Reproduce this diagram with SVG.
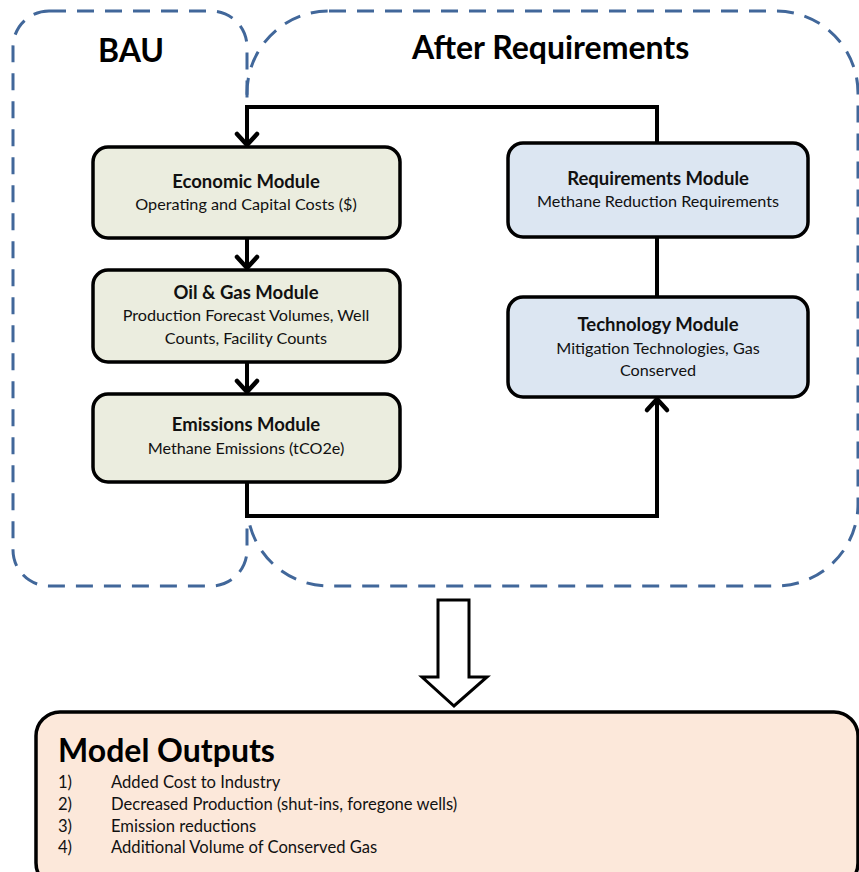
<svg xmlns="http://www.w3.org/2000/svg" width="859" height="872" viewBox="0 0 859 872">
<style>
.zone{fill:none;stroke:#41679a;stroke-width:3;stroke-dasharray:17 11}
.g{fill:#ebeddf;stroke:#000;stroke-width:3.5}
.b{fill:#dce6f2;stroke:#000;stroke-width:3.5}
.t{font-family:Lato,"Open Sans","Liberation Sans",sans-serif;fill:#111;text-anchor:middle}
.h{font-size:18.5px;font-weight:bold}
.s{font-size:16.2px}
.title{font-family:Lato,"Open Sans","Liberation Sans",sans-serif;font-weight:bold;font-size:32px;fill:#000}
.c{fill:none;stroke:#000;stroke-width:4}
.ca{fill:none;stroke:#000;stroke-width:4;marker-end:url(#chev)}
.li{font-family:Lato,"Open Sans","Liberation Sans",sans-serif;font-size:16.6px;fill:#111}
</style>
<defs>
<marker id="chev" markerUnits="userSpaceOnUse" markerWidth="30" markerHeight="30" viewBox="-15 -15 30 30" refX="0" refY="0" orient="auto">
<path d="M-11,-10 L0,0 L-11,10" fill="none" stroke="#000" stroke-width="4.5" stroke-linecap="round" stroke-linejoin="miter"/>
</marker>
</defs>
<g id="zones">
<rect class="zone" x="13" y="11" width="234" height="575" rx="36" ry="36"/>
<rect class="zone" x="247" y="11" width="611" height="575" rx="82" ry="82"/>
<text class="title" x="98" y="62" font-size="30">BAU</text>
<text class="title" x="412" y="59">After Requirements</text>
</g>
<g id="connectors">
<path class="c" d="M657,143 V107 H247"/>
<path class="ca" d="M247,105 V145"/>
<path class="ca" d="M247,238 V268"/>
<path class="ca" d="M247,362 V392"/>
<path class="c" d="M657,237 V297"/>
<path class="ca" d="M247,482 V516 H657 V399"/>
</g>
<g id="economic">
<rect class="g" x="93" y="147" width="307" height="91" rx="15"/>
<text class="t h" x="246" y="188">Economic Module</text>
<text class="t s" x="246" y="210">Operating and Capital Costs ($)</text>
</g>
<g id="oilgas">
<rect class="g" x="93" y="270" width="307" height="92" rx="15"/>
<text class="t h" x="246" y="299">Oil &amp; Gas Module</text>
<text class="t s" x="246" y="321">Production Forecast Volumes, Well</text>
<text class="t s" x="246" y="344">Counts, Facility Counts</text>
</g>
<g id="emissions">
<rect class="g" x="93" y="394" width="307" height="88" rx="15"/>
<text class="t h" x="246" y="431">Emissions Module</text>
<text class="t s" x="246" y="454">Methane Emissions (tCO2e)</text>
</g>
<g id="requirements">
<rect class="b" x="508" y="143" width="300" height="94" rx="15"/>
<text class="t h" x="658" y="185">Requirements Module</text>
<text class="t s" x="658" y="207">Methane Reduction Requirements</text>
</g>
<g id="technology">
<rect class="b" x="508" y="297" width="300" height="100" rx="15"/>
<text class="t h" x="658" y="331">Technology Module</text>
<text class="t s" x="658" y="354">Mitigation Technologies, Gas</text>
<text class="t s" x="658" y="376">Conserved</text>
</g>
<g id="bigarrow">
<path d="M438,600 H469 V677 H487 L454,706 L422,677 H438 Z" fill="#fff" stroke="#000" stroke-width="3"/>
</g>
<g id="outputs">
<rect x="36" y="712" width="822" height="175" rx="24" fill="#fce8da" stroke="#000" stroke-width="3.5"/>
<text class="title" x="58" y="762">Model Outputs</text>
<text class="li" x="58" y="788">1)</text>
<text class="li" x="111" y="788">Added Cost to Industry</text>
<text class="li" x="58" y="810">2)</text>
<text class="li" x="111" y="810">Decreased Production (shut-ins, foregone wells)</text>
<text class="li" x="58" y="832">3)</text>
<text class="li" x="111" y="832">Emission reductions</text>
<text class="li" x="58" y="853">4)</text>
<text class="li" x="111" y="853">Additional Volume of Conserved Gas</text>
</g>
</svg>
